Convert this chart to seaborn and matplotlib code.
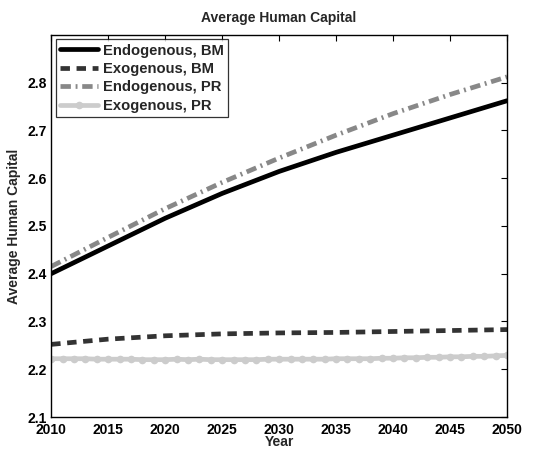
import matplotlib
matplotlib.use("Agg")
import matplotlib.pyplot as plt
import seaborn as sns
import pandas as pd

# Data
years_5 = [2010, 2015, 2020, 2025, 2030, 2035, 2040, 2045, 2050]
endo_bm = [2.400, 2.458, 2.516, 2.568, 2.614, 2.654, 2.690, 2.726, 2.762]
exo_bm = [2.252, 2.263, 2.270, 2.274, 2.276, 2.277, 2.279, 2.281, 2.283]
endo_pr = [2.415, 2.476, 2.536, 2.591, 2.642, 2.690, 2.735, 2.775, 2.812]

years_1 = list(range(2010, 2051))
exo_pr = [2.222, 2.222, 2.222, 2.222, 2.221, 2.221, 2.221, 2.221, 2.220, 2.220,
          2.220, 2.221, 2.220, 2.221, 2.220, 2.220, 2.220, 2.220, 2.220, 2.221,
          2.221, 2.221, 2.221, 2.221, 2.221, 2.222, 2.222, 2.222, 2.222, 2.223,
          2.223, 2.224, 2.224, 2.225, 2.225, 2.226, 2.226, 2.227, 2.227, 2.228,
          2.229]

sns.set_style("white")
plt.rcParams['font.family'] = ['Liberation Sans', 'DejaVu Sans']
plt.rcParams['font.weight'] = 'bold'

fig = plt.figure(figsize=(5.56, 4.55), dpi=100)
ax = fig.add_axes([0.092, 0.0835, 0.82, 0.84])

sns.lineplot(x=years_5, y=endo_bm, ax=ax, color='black', linewidth=3.4,
             label='Endogenous, BM')
sns.lineplot(x=years_5, y=exo_bm, ax=ax, color='#333333', linewidth=3.4,
             linestyle=(0, (2.0, 1.4)), label='Exogenous, BM')
sns.lineplot(x=years_5, y=endo_pr, ax=ax, color='#888888', linewidth=3.4,
             linestyle=(0, (2.2, 1.0, 0.4, 1.0)), label='Endogenous, PR')
sns.lineplot(x=years_1, y=exo_pr, ax=ax, color='#cccccc', linewidth=3.4,
             marker='o', markersize=5.5, markeredgewidth=0, label='Exogenous, PR')

ax.set_xlim(2010, 2050)
ax.set_ylim(2.1, 2.9)
ax.set_xticks(range(2010, 2051, 5))
ax.set_yticks([2.1, 2.2, 2.3, 2.4, 2.5, 2.6, 2.7, 2.8])

for s in ax.spines.values():
    s.set_color('black')
    s.set_linewidth(1.0)
ax.tick_params(direction='in', length=4, width=0.8, top=True, right=True,
               labelsize=10, colors='black')
ax.tick_params(axis='x', pad=4)
ax.tick_params(axis='y', pad=3)
for lbl in ax.get_xticklabels() + ax.get_yticklabels():
    lbl.set_fontweight('bold')

ax.set_title('Average Human Capital', fontsize=10, fontweight='bold', pad=9)
ax.set_xlabel('Year', fontsize=10, fontweight='bold', labelpad=-1)
ax.set_ylabel('Average Human Capital', fontsize=10, fontweight='bold', labelpad=5)

leg = ax.legend(loc='upper left', fontsize=10.6, frameon=True, fancybox=False,
                edgecolor='black', borderpad=0.3, labelspacing=0.3,
                handlelength=2.6, handletextpad=0.3, borderaxespad=0.3)
leg.get_frame().set_linewidth(0.9)
for t in leg.get_texts():
    t.set_fontweight('bold')

fig.savefig('out.png', dpi=100)
